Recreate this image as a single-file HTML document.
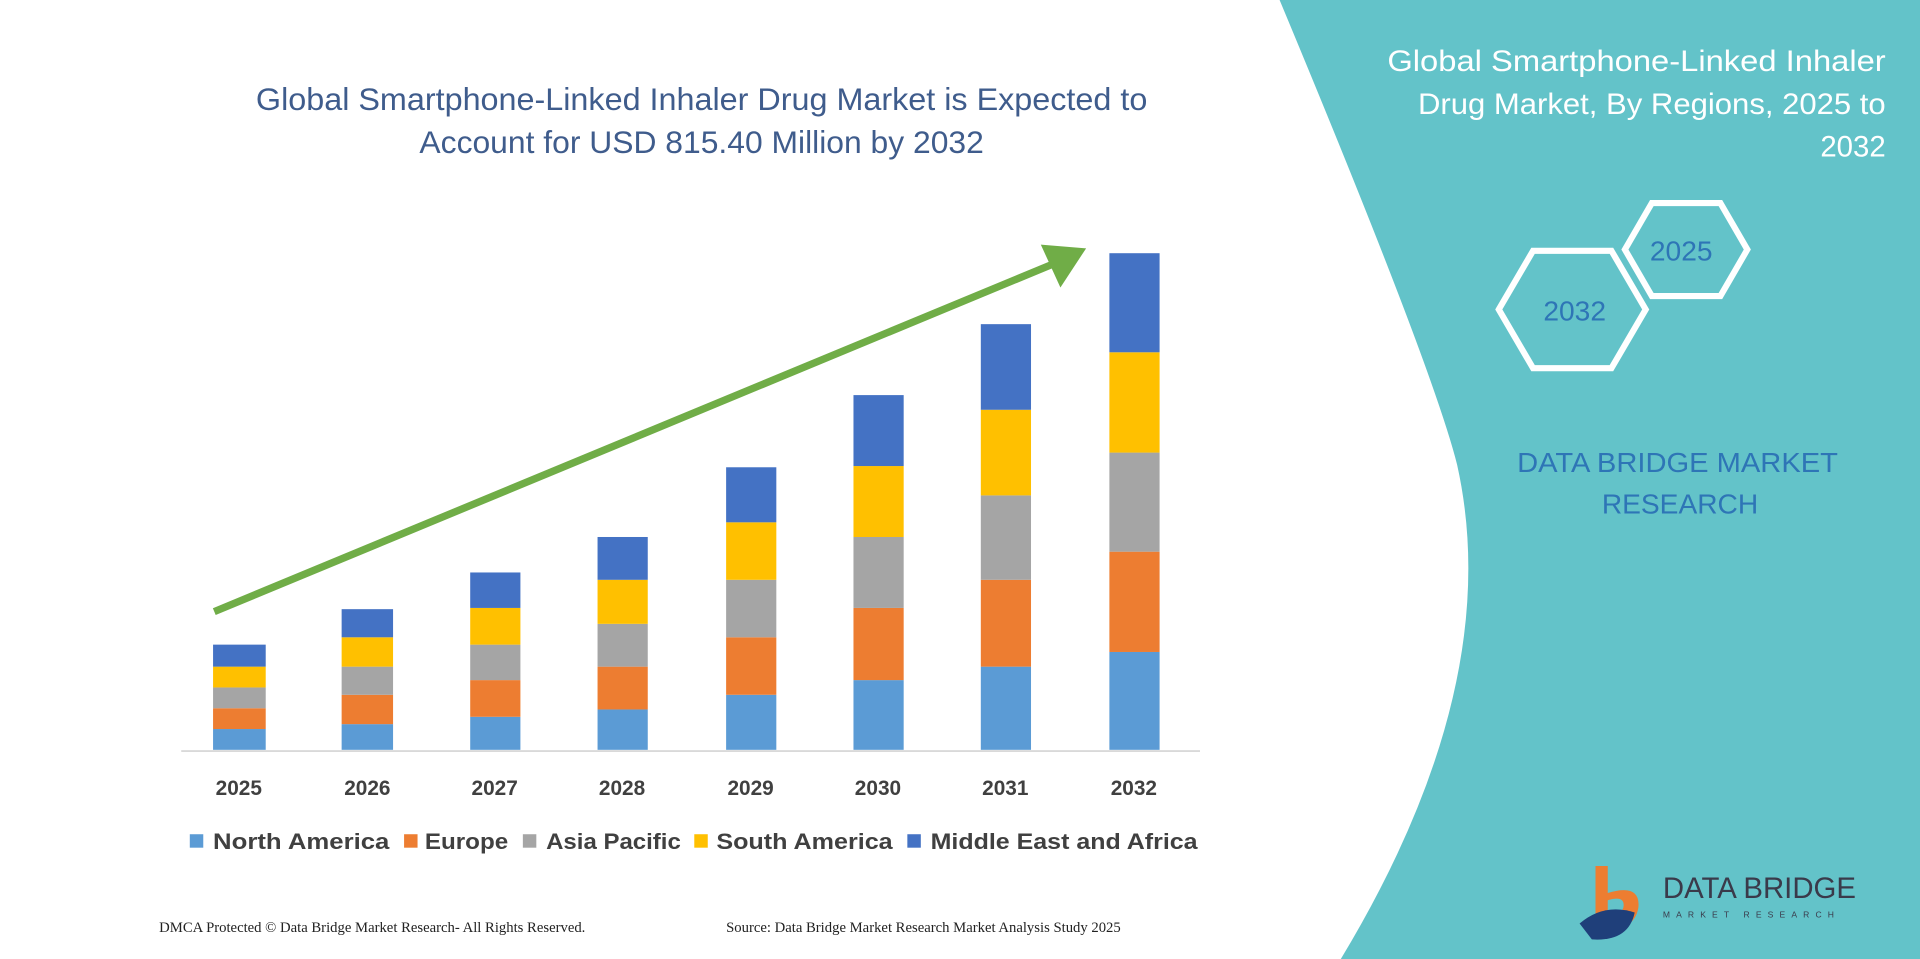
<!DOCTYPE html>
<html><head><meta charset="utf-8"><style>
html,body{margin:0;padding:0;background:#fff;}
svg{display:block;}
</style></head><body>
<svg width="1920" height="959" viewBox="0 0 1568 784" preserveAspectRatio="none" xmlns="http://www.w3.org/2000/svg" font-family="Liberation Sans, sans-serif">
<rect width="1568" height="784" fill="#fff"/>
<path d="M1045,0 L1568,0 L1568,784 L1095,784 Q1230,560 1190,380 Q1170,300 1045,0 Z" fill="#63c3c9"/>
<text x="573" y="90" text-anchor="middle" font-size="26" fill="#3f5c8c" textLength="728" lengthAdjust="spacingAndGlyphs">Global Smartphone-Linked Inhaler Drug Market is Expected to</text>
<text x="573" y="125" text-anchor="middle" font-size="26" fill="#3f5c8c">Account for USD 815.40 Million by 2032</text>
<line x1="148" y1="614" x2="980" y2="614" stroke="#d9d9d9" stroke-width="1.5"/>
<g>
<rect x="174" y="596" width="43" height="17" fill="#5b9bd5"/><rect x="174" y="579" width="43" height="17" fill="#ed7d31"/><rect x="174" y="562" width="43" height="17" fill="#a5a5a5"/><rect x="174" y="545" width="43" height="17" fill="#ffc000"/><rect x="174" y="527" width="43" height="18" fill="#4472c4"/>
<rect x="279" y="592" width="42" height="21" fill="#5b9bd5"/><rect x="279" y="568" width="42" height="24" fill="#ed7d31"/><rect x="279" y="545" width="42" height="23" fill="#a5a5a5"/><rect x="279" y="521" width="42" height="24" fill="#ffc000"/><rect x="279" y="498" width="42" height="23" fill="#4472c4"/>
<rect x="384" y="586" width="41" height="27" fill="#5b9bd5"/><rect x="384" y="556" width="41" height="30" fill="#ed7d31"/><rect x="384" y="527" width="41" height="29" fill="#a5a5a5"/><rect x="384" y="497" width="41" height="30" fill="#ffc000"/><rect x="384" y="468" width="41" height="29" fill="#4472c4"/>
<rect x="488" y="580" width="41" height="33" fill="#5b9bd5"/><rect x="488" y="545" width="41" height="35" fill="#ed7d31"/><rect x="488" y="510" width="41" height="35" fill="#a5a5a5"/><rect x="488" y="474" width="41" height="36" fill="#ffc000"/><rect x="488" y="439" width="41" height="35" fill="#4472c4"/>
<rect x="593" y="568" width="41" height="45" fill="#5b9bd5"/><rect x="593" y="521" width="41" height="47" fill="#ed7d31"/><rect x="593" y="474" width="41" height="47" fill="#a5a5a5"/><rect x="593" y="427" width="41" height="47" fill="#ffc000"/><rect x="593" y="382" width="41" height="45" fill="#4472c4"/>
<rect x="697" y="556" width="41" height="57" fill="#5b9bd5"/><rect x="697" y="497" width="41" height="59" fill="#ed7d31"/><rect x="697" y="439" width="41" height="58" fill="#a5a5a5"/><rect x="697" y="381" width="41" height="58" fill="#ffc000"/><rect x="697" y="323" width="41" height="58" fill="#4472c4"/>
<rect x="801" y="545" width="41" height="68" fill="#5b9bd5"/><rect x="801" y="474" width="41" height="71" fill="#ed7d31"/><rect x="801" y="405" width="41" height="69" fill="#a5a5a5"/><rect x="801" y="335" width="41" height="70" fill="#ffc000"/><rect x="801" y="265" width="41" height="70" fill="#4472c4"/>
<rect x="906" y="533" width="41" height="80" fill="#5b9bd5"/><rect x="906" y="451" width="41" height="82" fill="#ed7d31"/><rect x="906" y="370" width="41" height="81" fill="#a5a5a5"/><rect x="906" y="288" width="41" height="82" fill="#ffc000"/><rect x="906" y="207" width="41" height="81" fill="#4472c4"/>
</g>
<line x1="175" y1="500" x2="862" y2="215" stroke="#70ad47" stroke-width="6"/>
<polygon points="887,203 850,200 866,235" fill="#70ad47"/>
<g font-size="17" font-weight="bold" fill="#404040" text-anchor="middle">
<text x="195" y="650">2025</text><text x="300" y="650">2026</text><text x="404" y="650">2027</text><text x="508" y="650">2028</text><text x="613" y="650">2029</text><text x="717" y="650">2030</text><text x="821" y="650">2031</text><text x="926" y="650">2032</text>
</g>
<g font-size="18" font-weight="bold" fill="#404040">
<rect x="155" y="682" width="11" height="11" fill="#5b9bd5"/><text x="174" y="694" textLength="144" lengthAdjust="spacingAndGlyphs">North America</text>
<rect x="330" y="682" width="11" height="11" fill="#ed7d31"/><text x="347" y="694" textLength="68" lengthAdjust="spacingAndGlyphs">Europe</text>
<rect x="427" y="682" width="11" height="11" fill="#a5a5a5"/><text x="446" y="694" textLength="110" lengthAdjust="spacingAndGlyphs">Asia Pacific</text>
<rect x="567" y="682" width="11" height="11" fill="#ffc000"/><text x="585" y="694" textLength="144" lengthAdjust="spacingAndGlyphs">South America</text>
<rect x="741" y="682" width="11" height="11" fill="#4472c4"/><text x="760" y="694" textLength="218" lengthAdjust="spacingAndGlyphs">Middle East and Africa</text>
</g>
<text x="130" y="762" font-family="Liberation Serif, serif" font-size="12" fill="#222">DMCA Protected © Data Bridge Market Research-  All Rights Reserved.</text>
<text x="593" y="762" font-family="Liberation Serif, serif" font-size="12" fill="#222">Source: Data Bridge Market Research  Market Analysis Study 2025</text>
<g font-size="24" fill="#fff" text-anchor="end">
<text x="1540" y="58" textLength="407" lengthAdjust="spacingAndGlyphs">Global Smartphone-Linked Inhaler</text>
<text x="1540" y="93" textLength="382" lengthAdjust="spacingAndGlyphs">Drug Market, By Regions, 2025 to</text>
<text x="1540" y="128">2032</text>
</g>
<polygon points="1224,253 1252,205 1316,205 1344,253 1316,301 1252,301" fill="none" stroke="#fff" stroke-width="5"/>
<polygon points="1327,204 1349,166 1405,166 1427,204 1405,242 1349,242" fill="none" stroke="#fff" stroke-width="5"/>
<text x="1286" y="262" text-anchor="middle" font-size="23" fill="#2e75b6">2032</text>
<text x="1373" y="213" text-anchor="middle" font-size="23" fill="#2e75b6">2025</text>
<text x="1370" y="386" text-anchor="middle" font-size="23" fill="#2e75b6" textLength="262" lengthAdjust="spacingAndGlyphs">DATA BRIDGE MARKET</text>
<text x="1372" y="420" text-anchor="middle" font-size="23" fill="#2e75b6">RESEARCH</text>
<path d="M1303,708 L1313,708 L1313,730 Q1340,722 1338,742 Q1335,760 1312,760 L1312,748 Q1326,748 1326,740 Q1326,732 1313,736 L1313,752 L1303,752 Z" fill="#ed7d31"/>
<path d="M1290,755 Q1310,738 1335,746 Q1330,770 1300,768 Z" fill="#1f3f7a"/>
<text x="1358" y="734" font-size="24" fill="#3a3a4a">DATA BRIDGE</text>
<text x="1358" y="750" font-size="7" fill="#3a3a4a" letter-spacing="5">MARKET RESEARCH</text>
</svg>
</body></html>
